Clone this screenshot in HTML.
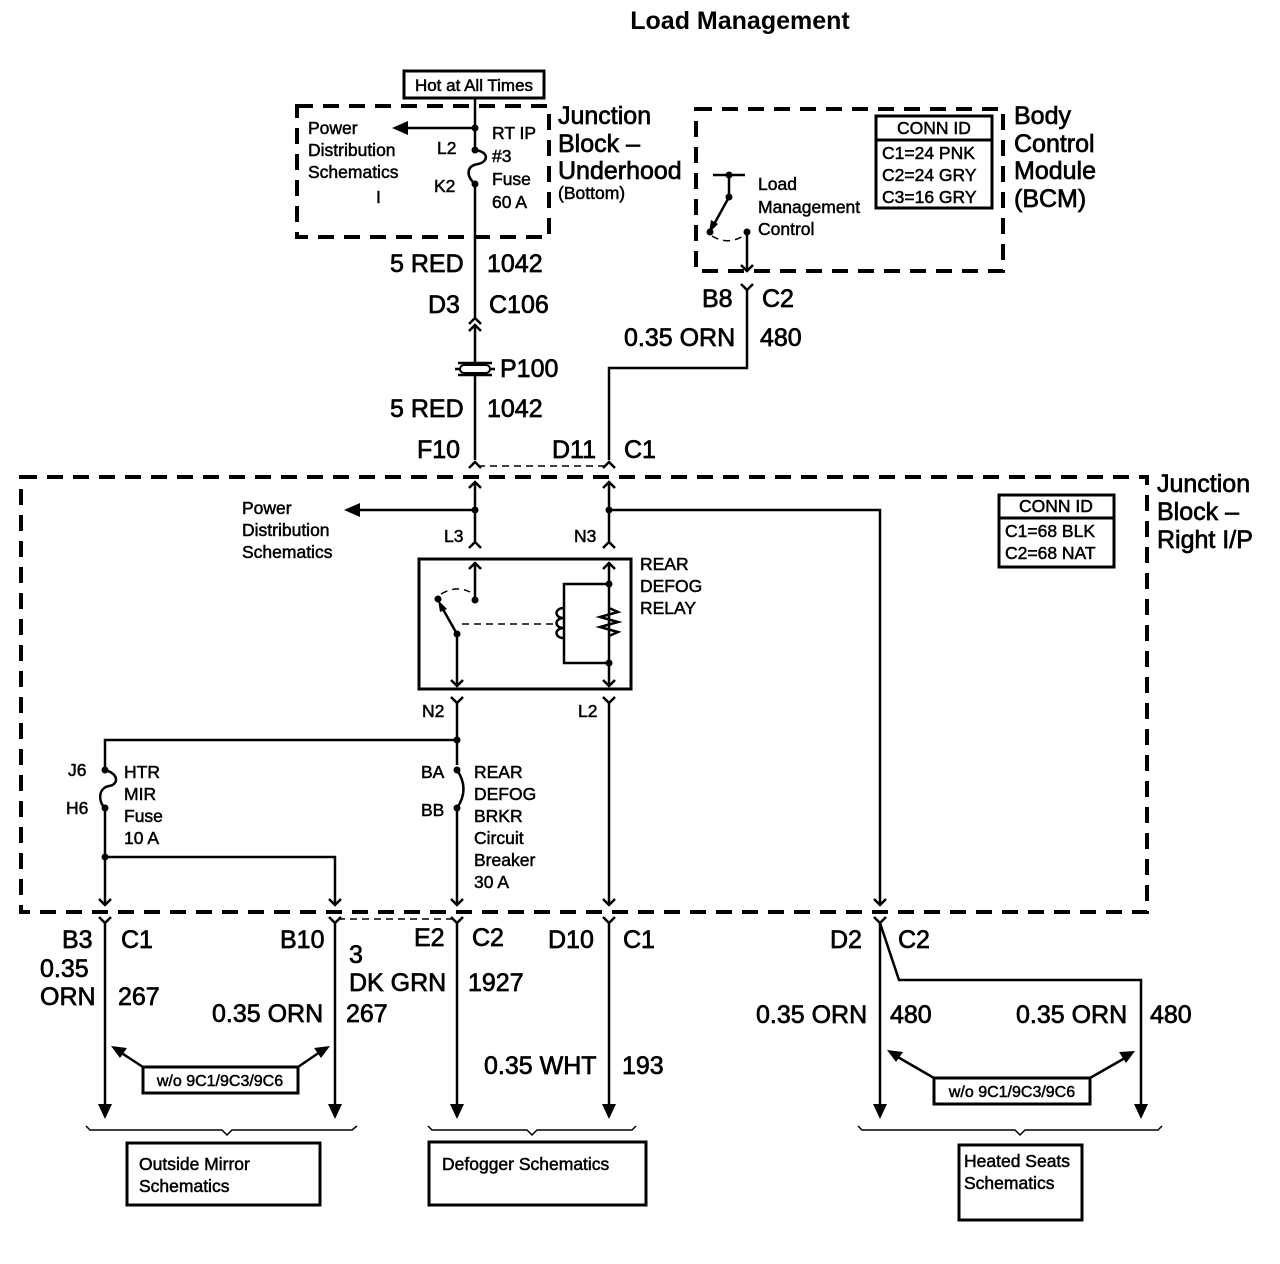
<!DOCTYPE html>
<html><head><meta charset="utf-8"><style>
html,body{margin:0;padding:0;background:#fff;}
svg{display:block;}
text{font-family:"Liberation Sans",sans-serif;fill:#000;}
.L{font-size:25px;stroke:#000;stroke-width:0.7;}
.S{font-size:17.5px;stroke:#000;stroke-width:0.5;}
.w{stroke:#000;stroke-width:2.5;fill:none;}
.t{stroke:#000;stroke-width:1.5;fill:none;}
.d{stroke:#000;stroke-width:4;fill:none;stroke-dasharray:16,10;}
.dt{stroke:#000;stroke-width:1.5;fill:none;stroke-dasharray:7,5;}
.b{stroke:#000;stroke-width:3;fill:none;}
</style></head><body>
<svg width="1280" height="1264" viewBox="0 0 1280 1264" xmlns="http://www.w3.org/2000/svg">
<text x="740" y="29" text-anchor="middle" style="font-size:25px;font-weight:bold">Load Management</text>

<rect x="404" y="71" width="140" height="27" class="b"/>
<text x="474" y="91" text-anchor="middle" class="S" style="font-size:17px">Hot at All Times</text>

<rect x="297" y="106" width="252" height="131" class="d"/>
<text x="558" y="124" class="L">Junction</text>
<text x="558" y="152" class="L">Block –</text>
<text x="558" y="179" class="L">Underhood</text>
<text x="558" y="199" class="S">(Bottom)</text>
<text x="308" y="134" class="S">Power</text>
<text x="308" y="156" class="S">Distribution</text>
<text x="308" y="178" class="S">Schematics</text>
<text x="376" y="203" class="S">I</text>
<path d="M475 98 V150" class="w"/>
<circle cx="475" cy="128" r="3.5"/>
<path d="M475 128 H405" class="w"/>
<path d="M392 128 L408 121 L408 135 Z"/>
<circle cx="475" cy="150" r="3.5"/>
<path d="M475 150 C490 152 488 162 478 164 C466 166 466 176 475 184" class="w"/>
<circle cx="475" cy="184" r="3.5"/>
<path d="M475 184 V317" class="w"/>
<text x="437" y="154" class="S">L2</text>
<text x="434" y="192" class="S">K2</text>
<text x="492" y="139" class="S">RT IP</text>
<text x="492" y="162" class="S">#3</text>
<text x="492" y="185" class="S">Fuse</text>
<text x="492" y="208" class="S">60 A</text>
<text x="390" y="272" class="L">5 RED</text>
<text x="487" y="272" class="L">1042</text>
<text x="428" y="313" class="L">D3</text>
<text x="489" y="313" class="L">C106</text>
<path d="M469 324 L475 318 L481 324 M469 331 L475 325 L481 331" class="w"/>
<path d="M475 325 V460" class="w"/>
<path d="M458 363 H492 M455 369 H495 M458 375 H492" class="w"/>
<rect x="460" y="365" width="30" height="8" rx="4" fill="#fff" stroke="#000" stroke-width="2"/>
<text x="500" y="377" class="L">P100</text>
<text x="390" y="417" class="L">5 RED</text>
<text x="487" y="417" class="L">1042</text>
<text x="417" y="458" class="L">F10</text>
<text x="552" y="458" class="L">D11</text>
<text x="624" y="458" class="L">C1</text>
<path d="M469 468 L475 462 L481 468 M603 468 L609 462 L615 468" class="w"/>
<path d="M478 466 H606" class="dt"/>

<rect x="696" y="109" width="307" height="162" class="d"/>
<text x="1014" y="124" class="L">Body</text>
<text x="1014" y="152" class="L">Control</text>
<text x="1014" y="179" class="L">Module</text>
<text x="1014" y="207" class="L">(BCM)</text>
<rect x="876" y="116" width="116" height="92" class="b"/>
<path d="M876 140 H992" class="b"/>
<text x="934" y="134" text-anchor="middle" class="S">CONN ID</text>
<text x="882" y="159" class="S">C1=24 PNK</text>
<text x="882" y="181" class="S">C2=24 GRY</text>
<text x="882" y="203" class="S">C3=16 GRY</text>
<path d="M713 175 H745 M729 175 V197" class="w"/>
<circle cx="729" cy="175" r="3.5"/>
<circle cx="729" cy="197" r="3.5"/>
<path d="M729 197 L712 228" class="w"/>
<path d="M709 233 L711 220 L718 224 Z"/>
<circle cx="710" cy="232" r="3.5"/>
<circle cx="747" cy="232" r="3.5"/>
<path d="M712 236 Q728 246 745 235" class="dt"/>
<path d="M747 232 V271 M741 265 L747 271 L753 265" class="w"/>
<text x="758" y="190" class="S">Load</text>
<text x="758" y="213" class="S">Management</text>
<text x="758" y="235" class="S">Control</text>
<path d="M741 284 L747 290 L753 284 M747 290 V368 H609 V460" class="w"/>
<text x="702" y="307" class="L">B8</text>
<text x="762" y="307" class="L">C2</text>
<text x="624" y="346" class="L">0.35 ORN</text>
<text x="760" y="346" class="L">480</text>

<rect x="21" y="477" width="1126" height="435" class="d"/>
<text x="1157" y="492" class="L">Junction</text>
<text x="1157" y="520" class="L">Block –</text>
<text x="1157" y="548" class="L">Right I/P</text>
<rect x="999" y="495" width="115" height="72" class="b"/>
<path d="M999 518 H1114" class="b"/>
<text x="1056" y="512" text-anchor="middle" class="S">CONN ID</text>
<text x="1005" y="537" class="S">C1=68 BLK</text>
<text x="1005" y="559" class="S">C2=68 NAT</text>

<path d="M469 488 L475 482 L481 488 M475 482 V541 M469 548 L475 542 L481 548" class="w"/>
<path d="M603 488 L609 482 L615 488 M609 482 V541 M603 548 L609 542 L615 548" class="w"/>
<circle cx="475" cy="510" r="3.5"/>
<path d="M475 510 H358" class="w"/>
<path d="M344 510 L360 503 L360 517 Z"/>
<text x="242" y="514" class="S">Power</text>
<text x="242" y="536" class="S">Distribution</text>
<text x="242" y="558" class="S">Schematics</text>
<text x="444" y="542" class="S">L3</text>
<text x="574" y="542" class="S">N3</text>
<circle cx="609" cy="510" r="3.5"/>
<path d="M609 510 H880 V905 M874 899 L880 905 L886 899" class="w"/>

<rect x="419" y="559" width="212" height="130" class="b" stroke-width="4"/>
<text x="640" y="570" class="S">REAR</text>
<text x="640" y="592" class="S">DEFOG</text>
<text x="640" y="614" class="S">RELAY</text>
<path d="M469 569 L475 563 L481 569 M475 563 V600" class="w"/>
<circle cx="475" cy="600" r="3.5"/>
<circle cx="438" cy="599" r="3.5"/>
<path d="M441 594 Q456 585 470 592" class="dt"/>
<circle cx="457" cy="634" r="3.5"/>
<path d="M457 634 L440 604" class="w"/>
<path d="M438 600 L447 609 L440 612 Z"/>
<path d="M457 634 V686 M451 680 L457 686 L463 680" class="w"/>
<path d="M462 624 H556" class="dt"/>
<path d="M603 569 L609 563 L615 569 M609 563 V686 M603 680 L609 686 L615 680" class="w"/>
<circle cx="609" cy="584" r="3.5"/>
<circle cx="609" cy="663" r="3.5"/>
<path d="M609 584 H564 V663 H609" class="w"/>
<path d="M564 608 C554 608 554 618 564 618 C554 618 554 628 564 628 C554 628 554 638 564 638" class="w"/>
<path d="M609 608 L618 612 L600 617 L618 622 L600 627 L618 632 L609 636" class="w"/>
<path d="M451 697 L457 703 L463 697 M457 703 V765" class="w"/>
<path d="M603 697 L609 703 L615 697 M609 703 V905 M603 899 L609 905 L615 899" class="w"/>
<text x="422" y="717" class="S">N2</text>
<text x="578" y="717" class="S">L2</text>
<circle cx="457" cy="740" r="3.5"/>
<path d="M457 740 H105 V770" class="w"/>
<circle cx="105" cy="770" r="3.5"/>
<path d="M105 770 C120 774 118 785 109 786 C98 788 98 802 105 808" class="w"/>
<circle cx="105" cy="808" r="3.5"/>
<path d="M105 808 V905 M99 899 L105 905 L111 899" class="w"/>
<circle cx="105" cy="857" r="3.5"/>
<path d="M105 857 H335 V905 M329 899 L335 905 L341 899" class="w"/>
<text x="68" y="776" class="S">J6</text>
<text x="66" y="814" class="S">H6</text>
<text x="124" y="778" class="S">HTR</text>
<text x="124" y="800" class="S">MIR</text>
<text x="124" y="822" class="S">Fuse</text>
<text x="124" y="844" class="S">10 A</text>
<circle cx="457" cy="770" r="3.5"/>
<path d="M457 770 Q470 789 457 808" class="w"/>
<circle cx="457" cy="808" r="3.5"/>
<path d="M457 808 V905 M451 899 L457 905 L463 899" class="w"/>
<text x="421" y="778" class="S">BA</text>
<text x="421" y="816" class="S">BB</text>
<text x="474" y="778" class="S">REAR</text>
<text x="474" y="800" class="S">DEFOG</text>
<text x="474" y="822" class="S">BRKR</text>
<text x="474" y="844" class="S">Circuit</text>
<text x="474" y="866" class="S">Breaker</text>
<text x="474" y="888" class="S">30 A</text>

<g class="w">
<path d="M99 917 L105 923 L111 917 M105 923 V1105"/>
<path d="M329 917 L335 923 L341 917 M335 923 V1105"/>
<path d="M451 917 L457 923 L463 917 M457 923 V1105"/>
<path d="M603 917 L609 923 L615 917 M609 923 V1105"/>
<path d="M874 917 L880 923 L886 917 M880 923 V1105"/>
<path d="M880 923 L899 980 H1141 V1105"/>
</g>
<path d="M338 919 H454" class="dt"/>
<path d="M98 1104 L105 1119 L112 1104 Z M328 1104 L335 1119 L342 1104 Z M450 1104 L457 1119 L464 1104 Z M602 1104 L609 1119 L616 1104 Z M873 1104 L880 1119 L887 1104 Z M1134 1104 L1141 1119 L1148 1104 Z"/>
<text x="62" y="948" class="L">B3</text>
<text x="121" y="948" class="L">C1</text>
<text x="280" y="948" class="L">B10</text>
<text x="349" y="963" class="L">3</text>
<text x="414" y="946" class="L">E2</text>
<text x="472" y="946" class="L">C2</text>
<text x="548" y="948" class="L">D10</text>
<text x="623" y="948" class="L">C1</text>
<text x="830" y="948" class="L">D2</text>
<text x="898" y="948" class="L">C2</text>
<text x="40" y="977" class="L">0.35</text>
<text x="40" y="1005" class="L">ORN</text>
<text x="118" y="1005" class="L">267</text>
<text x="212" y="1022" class="L">0.35 ORN</text>
<text x="346" y="1022" class="L">267</text>
<text x="349" y="991" class="L">DK GRN</text>
<text x="468" y="991" class="L">1927</text>
<text x="484" y="1074" class="L">0.35 WHT</text>
<text x="622" y="1074" class="L">193</text>
<text x="756" y="1023" class="L">0.35 ORN</text>
<text x="890" y="1023" class="L">480</text>
<text x="1016" y="1023" class="L">0.35 ORN</text>
<text x="1150" y="1023" class="L">480</text>

<rect x="143" y="1067" width="155" height="26" class="b" fill="#fff"/>
<text x="220" y="1086" text-anchor="middle" class="S" style="font-size:16px">w/o 9C1/9C3/9C6</text>
<path d="M143 1067 L120 1052 M298 1067 L320 1052" class="w"/>
<path d="M111 1046 L127 1048 L120 1058 Z M330 1046 L314 1048 L321 1058 Z"/>
<rect x="934" y="1078" width="156" height="26" class="b" fill="#fff"/>
<text x="1012" y="1097" text-anchor="middle" class="S" style="font-size:16px">w/o 9C1/9C3/9C6</text>
<path d="M934 1078 L896 1056 M1090 1078 L1125 1058" class="w"/>
<path d="M887 1050 L903 1052 L896 1062 Z M1135 1051 L1119 1052 L1126 1063 Z"/>

<path d="M86 1126 L90 1130 H222 L227 1135 L232 1130 H352 L357 1126" class="t" stroke-width="2"/>
<path d="M428 1126 L432 1130 H527 L532 1135 L537 1130 H632 L636 1126" class="t" stroke-width="2"/>
<path d="M858 1126 L862 1130 H1015 L1020 1135 L1025 1130 H1158 L1162 1126" class="t" stroke-width="2"/>

<rect x="127" y="1143" width="193" height="62" class="b"/>
<text x="139" y="1170" class="S">Outside Mirror</text>
<text x="139" y="1192" class="S">Schematics</text>
<rect x="429" y="1142" width="217" height="63" class="b"/>
<text x="442" y="1170" class="S">Defogger Schematics</text>
<rect x="959" y="1145" width="123" height="75" class="b"/>
<text x="964" y="1167" class="S">Heated Seats</text>
<text x="964" y="1189" class="S">Schematics</text>
</svg>
</body></html>
